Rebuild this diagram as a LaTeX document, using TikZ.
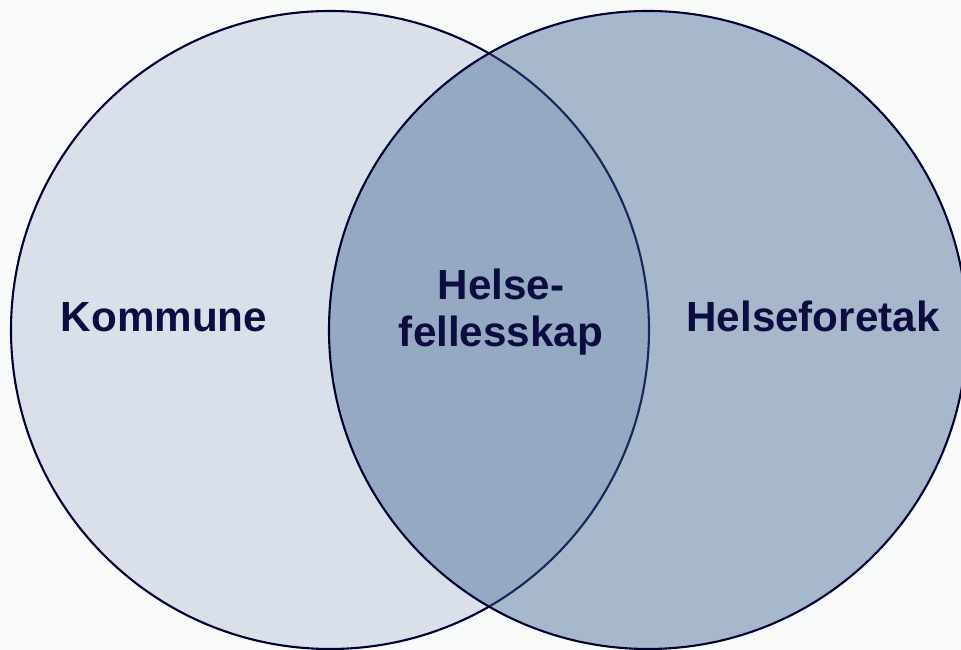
\documentclass[tikz,border=0pt]{standalone}
\usepackage{fontspec}
\setmainfont{Liberation Sans}
\usepackage{tikz}

\definecolor{bakgrunn}{HTML}{F8FAFA}
\definecolor{kommunefarge}{HTML}{D9E0EA}
\definecolor{foretakfarge}{HTML}{375D8F}
\definecolor{strek}{HTML}{000033}
\definecolor{tekst}{HTML}{0C0C40}

\begin{document}
\begin{tikzpicture}[x=0.025cm,y=0.025cm,
    sirkel/.style={draw=strek,line width=1.5pt},
    etikett/.style={text=tekst,font=\fontsize{30}{34}\selectfont\bfseries,align=center}]
          \fill[bakgrunn] (0,0) rectangle (961,650);
          \useasboundingbox (0,0) rectangle (961,650);
          % kommune og helseforetak
          \draw[sirkel,fill=kommunefarge] (330,320) circle (319);
          \draw[sirkel,fill=foretakfarge,fill opacity=0.42] (648,320) circle (319);
          % tekst
          \node[etikett,anchor=base] (kommune) at (164,318) {Kommune};
          \node[etikett,anchor=base] (helseforetak) at (813,318) {Helseforetak};
          \node[etikett,anchor=base] (helsefellesskap) at (501,303) {Helse-\\fellesskap};
        \end{tikzpicture}
\end{document}
